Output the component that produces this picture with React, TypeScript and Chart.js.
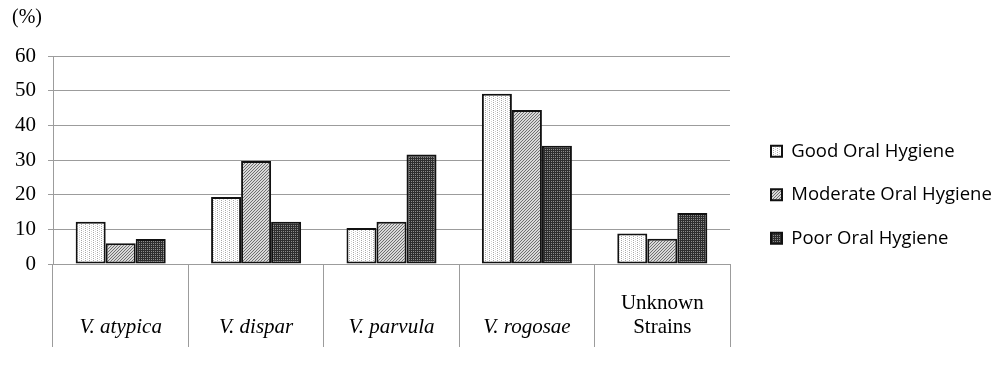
import React, { useEffect, useRef } from 'react';
import { Chart, registerables } from 'chart.js';

Chart.register(...registerables);

// ---- data ----
const categories: (string | string[])[] = ['V. atypica', 'V. dispar', 'V. parvula', 'V. rogosae', ['Unknown', 'Strains']];
const italicCategoryCount = 4;
const seriesNames = ['Good Oral Hygiene', 'Moderate Oral Hygiene', 'Poor Oral Hygiene'];
const goodValues = [12.2, 19.3, 10.4, 49.1, 8.8];
const moderateValues = [6.0, 29.7, 12.2, 44.4, 7.3];
const poorValues = [7.2, 12.2, 31.6, 34.1, 14.7];
const yTickValues = [0, 10, 20, 30, 40, 50, 60];
const unitLabel = '(%)';

const GRID = '#9c9c9c';

function makePattern(w: number, h: number, bg: string, px: [number, number, string][]) {
  const c = document.createElement('canvas');
  c.width = w;
  c.height = h;
  const g = c.getContext('2d')!;
  g.fillStyle = bg;
  g.fillRect(0, 0, w, h);
  px.forEach(([x, y, col]) => {
    g.fillStyle = col;
    g.fillRect(x, y, 1, 1);
  });
  return g.createPattern(c, 'repeat')!;
}

const legendPlacement = {
  id: 'legendPlacement',
  beforeLayout(chart: any) {
    const lg = chart.legend;
    if (!lg || lg.__patched) return;
    const fit = lg.fit.bind(lg);
    lg.fit = function () {
      fit();
      this.width = 270;
    };
    lg.__patched = true;
  },
  afterLayout(chart: any) {
    const lg = chart.legend;
    if (!lg) return;
    const pad = lg.options.labels.padding;
    lg.left = 771 - pad;
    lg.top = 142 - pad;
  },
};

export default function App() {
  const ref = useRef<HTMLCanvasElement | null>(null);

  useEffect(() => {
    if (!ref.current) return;
    const goodPattern = makePattern(4, 2, '#ffffff', [
      [1, 0, '#a8a8a8'],
      [3, 1, '#d0d0d0'],
    ]);
    const moderatePattern = makePattern(3, 3, '#d9d9d9', [
      [2, 0, '#6f6f6f'],
      [1, 1, '#6f6f6f'],
      [0, 2, '#6f6f6f'],
    ]);
    const poorPattern = makePattern(2, 2, '#2e2e2e', [
      [1, 1, '#8c8c8c'],
    ]);
    const patterns = [goodPattern, moderatePattern, poorPattern];
    const values = [goodValues, moderateValues, poorValues];

    const chart = new Chart(ref.current, {
      type: 'bar',
      data: {
        labels: categories,
        datasets: seriesNames.map((name, i) => ({
          label: name,
          data: values[i],
          backgroundColor: patterns[i],
          borderColor: '#111111',
          borderWidth: 2,
          borderSkipped: false,
          categoryPercentage: 0.665,
          barPercentage: 1.0,
        })),
      },
      options: {
        responsive: false,
        animation: false,
        layout: { padding: { left: 12, top: 0, right: 0, bottom: 0 } },
        plugins: {
          title: {
            display: true,
            text: unitLabel,
            align: 'start',
            color: '#000',
            font: { family: 'Liberation Serif', size: 20, weight: 'normal', lineHeight: 1.2 },
            padding: { top: 6, bottom: 26 },
          },
          legend: {
            position: 'right',
            align: 'start',
            labels: {
              boxWidth: 11,
              boxHeight: 11,
              padding: 25,
              color: '#000',
              font: { family: 'Open Sans', size: 18.5 },
            },
          },
          tooltip: { enabled: false },
        },
        scales: {
          x: {
            offset: true,
            grid: {
              offset: true,
              drawOnChartArea: false,
              drawTicks: true,
              tickLength: 83,
              color: GRID,
              lineWidth: 1,
            },
            border: { color: GRID, width: 1 },
            ticks: {
              autoSkip: false,
              maxRotation: 0,
              minRotation: 0,
              padding: -44,
              crossAlign: 'far',
              color: '#000',
              font: (c: any) => ({
                family: 'Liberation Serif',
                size: 21,
                lineHeight: 1.17,
                style: c.index < italicCategoryCount ? 'italic' : 'normal',
              }),
            },
            afterFit: (s: any) => {
              s.height = 108;
            },
          },
          y: {
            min: yTickValues[0],
            max: yTickValues[yTickValues.length - 1],
            ticks: {
              stepSize: yTickValues[1] - yTickValues[0],
              padding: 12,
              color: '#000',
              font: { family: 'Liberation Serif', size: 21 },
            },
            grid: { color: GRID, tickLength: 5, drawTicks: true, lineWidth: 1 },
            border: { color: GRID, width: 1 },
            afterFit: (s: any) => {
              s.width = 41;
            },
          },
        },
      } as any,
      plugins: [legendPlacement],
    });
    return () => chart.destroy();
  }, []);

  return (
    <div style={{ position: 'absolute', left: 0, top: 0, width: 1000, height: 372, background: '#fff' }}>
      <canvas ref={ref} width={1000} height={372} style={{ display: 'block' }} />
    </div>
  );
}
